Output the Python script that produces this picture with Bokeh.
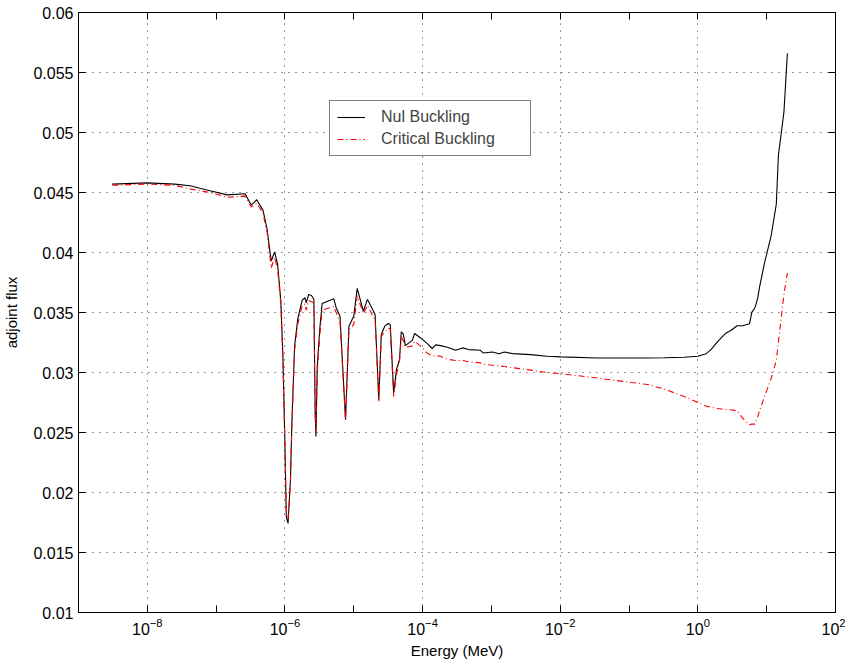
from bokeh.plotting import figure
from bokeh.models import (FixedTicker, LogAxis, LinearAxis, Legend, LegendItem,
                          Range1d, ColumnDataSource, CustomJSTickFormatter)
from bokeh.embed import file_html
from bokeh.resources import INLINE

# Energy group points (MeV)
energy = [3.09e-9, 1.0e-8, 2.51e-8, 4.17e-8, 8.13e-8, 1.45e-7, 2.63e-7, 3.24e-7, 3.89e-7,
          4.79e-7, 5.50e-7, 6.31e-7, 7.08e-7, 7.83e-7, 8.71e-7, 9.33e-7, 9.91e-7, 1.047e-6,
          1.109e-6, 1.20e-6, 1.26e-6, 1.38e-6, 1.53e-6, 1.78e-6, 1.95e-6, 2.04e-6, 2.21e-6,
          2.43e-6, 2.63e-6, 2.75e-6, 2.82e-6, 2.95e-6, 3.20e-6, 3.47e-6, 5.13e-6, 5.55e-6,
          6.31e-6, 7.59e-6, 8.51e-6, 1.0e-5, 1.12e-5, 1.38e-5, 1.58e-5, 1.78e-5, 2.04e-5,
          2.31e-5, 2.51e-5, 2.82e-5, 3.16e-5, 3.39e-5, 3.80e-5, 4.17e-5, 4.62e-5, 4.90e-5,
          5.25e-5, 5.62e-5, 7.08e-5, 7.66e-5, 9.33e-5, 1.17e-4, 1.38e-4, 1.55e-4, 1.82e-4,
          2.29e-4, 3.02e-4, 3.80e-4, 4.68e-4, 6.92e-4, 7.59e-4, 1.035e-3, 1.29e-3, 1.55e-3,
          2.04e-3, 3.72e-3, 6.46e-3, 1.02e-2, 3.47e-2, 0.107, 0.186, 0.324, 0.631, 1.0,
          1.32, 1.55, 1.95, 2.57, 3.02, 3.72, 4.47, 5.62, 6.10, 6.76, 7.41, 7.85, 9.33,
          11.6, 13.8, 14.8, 17.8, 20.0]

# Adjoint flux, null buckling
flux_nul = [0.0457, 0.0458, 0.0457, 0.04556, 0.04514, 0.0448, 0.0449, 0.04395, 0.0444,
            0.04353, 0.04194, 0.03929, 0.04004, 0.0390, 0.03595, 0.03135, 0.02494, 0.01797,
            0.01742, 0.0210, 0.02578, 0.03218, 0.03442, 0.03603, 0.03623, 0.0358, 0.0365,
            0.03642, 0.0361, 0.02661, 0.02466, 0.03051, 0.03358, 0.03575, 0.03614, 0.0354,
            0.03469, 0.02605, 0.03386, 0.0347, 0.0370, 0.03511, 0.03609, 0.03553, 0.03483,
            0.02773, 0.03316, 0.03386, 0.03408, 0.0340, 0.02829, 0.03024, 0.03107, 0.03339,
            0.0332, 0.03224, 0.03268, 0.03325, 0.03288, 0.03241, 0.0320, 0.0323, 0.03224,
            0.0321, 0.03185, 0.03205, 0.03191, 0.03185, 0.03163, 0.03171, 0.03157, 0.03171,
            0.03157, 0.03149, 0.03135, 0.0313, 0.03121, 0.03121, 0.03121, 0.03123, 0.03127, 0.03135,
            0.03157, 0.0319, 0.0326, 0.0333, 0.0335, 0.0339, 0.0339, 0.03406, 0.03503, 0.0354,
            0.0362, 0.03707, 0.03916, 0.04138, 0.04403, 0.0481, 0.0517, 0.0566]

# Adjoint flux, critical buckling
flux_crit = [0.0456, 0.0457, 0.0456, 0.0453, 0.0450, 0.0446, 0.0447, 0.0438, 0.0441,
             0.0433, 0.0417, 0.0387, 0.0396, 0.0386, 0.0357, 0.0312, 0.0247, 0.0182,
             0.0178, 0.0206, 0.0255, 0.0318, 0.0340, 0.0356, 0.0357, 0.0352, 0.0360,
             0.0359, 0.0358, 0.0265, 0.0250, 0.0300, 0.0330, 0.0352, 0.0355, 0.0350,
             0.0342, 0.0260, 0.0336, 0.0340, 0.0364, 0.0349, 0.0356, 0.0350, 0.0344,
             0.0276, 0.0330, 0.0334, 0.0337, 0.0336, 0.0280, 0.0298, 0.0309, 0.0330,
             0.0326, 0.0321, 0.0322, 0.0326, 0.0322, 0.0316, 0.0314, 0.0314, 0.03135,
             0.0311, 0.0310, 0.0310, 0.0309, 0.0308, 0.0307, 0.0306, 0.03055, 0.0305,
             0.0304, 0.0302, 0.0300, 0.0299, 0.02954, 0.02917, 0.0290, 0.02862, 0.0280, 0.0275,
             0.0272, 0.0271, 0.0270, 0.0269, 0.0269, 0.0268, 0.0262, 0.02564, 0.0257, 0.0257,
             0.0263, 0.0268, 0.0280, 0.0295, 0.0310, 0.0325, 0.0365, 0.0383]

x_major = [1e-8, 1e-6, 1e-4, 1e-2, 1e0, 1e2]
x_minor = [1e-9, 1e-7, 1e-5, 1e-3, 1e-1, 1e1]
y_ticks = [0.01, 0.015, 0.02, 0.025, 0.03, 0.035, 0.04, 0.045, 0.05, 0.055, 0.06]
y_labels = ["0.01", "0.015", "0.02", "0.025", "0.03", "0.035", "0.04", "0.045", "0.05", "0.055", "0.06"]

FONT = "Liberation Sans"
FS = "16px"

src = ColumnDataSource(dict(e=energy, nul=flux_nul, crit=flux_crit))

p = figure(frame_width=757, frame_height=600, x_axis_type="log",
           x_range=Range1d(1e-9, 1e2), y_range=Range1d(0.01, 0.06),
           output_backend="svg", toolbar_location=None,
           min_border_left=74, min_border_right=10, min_border_top=12, min_border_bottom=36)

p.outline_line_color = "black"
p.outline_line_width = 1
p.background_fill_color = "white"
p.border_fill_color = "white"

xt = FixedTicker(ticks=x_major, minor_ticks=x_minor)
yt = FixedTicker(ticks=y_ticks, minor_ticks=[])

xa = p.xaxis[0]
xa.ticker = xt
xa.axis_label = "Energy (MeV)"
ya = p.yaxis[0]
ya.ticker = yt
ya.major_label_overrides = {t: l for t, l in zip(y_ticks, y_labels)}
ya.axis_label = "adjoint flux"

for ax in (xa, ya):
    ax.major_tick_in = 7
    ax.major_tick_out = 0
    ax.minor_tick_in = 7
    ax.minor_tick_out = 0
    ax.axis_line_color = "black"
    ax.major_tick_line_color = "black"
    ax.minor_tick_line_color = "black"
    ax.major_label_text_font = FONT
    ax.major_label_text_font_size = FS
    ax.major_label_text_color = "black"
    ax.axis_label_text_font = FONT
    ax.axis_label_text_font_size = "15px"
    ax.axis_label_text_font_style = "normal"
    ax.axis_label_text_color = "black"
    ax.major_label_standoff = 5
ya.axis_label_standoff = 10
xa.axis_label_standoff = 4

blank = CustomJSTickFormatter(code="return ''")
top = LogAxis(ticker=xt, formatter=blank, major_tick_in=7, major_tick_out=0,
              minor_tick_in=7, minor_tick_out=0, major_label_standoff=0)
right = LinearAxis(ticker=yt, formatter=blank, major_tick_in=7, major_tick_out=0,
                   minor_tick_in=0, minor_tick_out=0, major_label_standoff=0)
p.add_layout(top, "above")
p.add_layout(right, "right")

for g in (p.xgrid[0], p.ygrid[0]):
    g.grid_line_color = "#303030"
    g.grid_line_dash = "1 6"
    g.grid_line_width = 1
p.xgrid[0].ticker = xt
p.ygrid[0].ticker = yt

r1 = p.line("e", "nul", source=src, line_color="black", line_width=1.1)
r2 = p.line("e", "crit", source=src, line_color="red", line_width=1.1, line_dash="6 3 1 3")

legend = Legend(items=[LegendItem(label="Nul Buckling", renderers=[r1]),
                       LegendItem(label="Critical Buckling", renderers=[r2])],
                location=(251, 456))
legend.border_line_color = "black"
legend.border_line_width = 1
legend.background_fill_color = "white"
legend.background_fill_alpha = 1
legend.label_text_font = FONT
legend.label_text_font_size = FS
legend.glyph_width = 28
legend.glyph_height = 18
legend.label_height = 18
legend.label_width = 142
legend.label_standoff = 16
legend.padding = 7
legend.spacing = 4
legend.margin = 0
p.add_layout(legend, "center")

open("out.html", "w").write(file_html(p, INLINE))
